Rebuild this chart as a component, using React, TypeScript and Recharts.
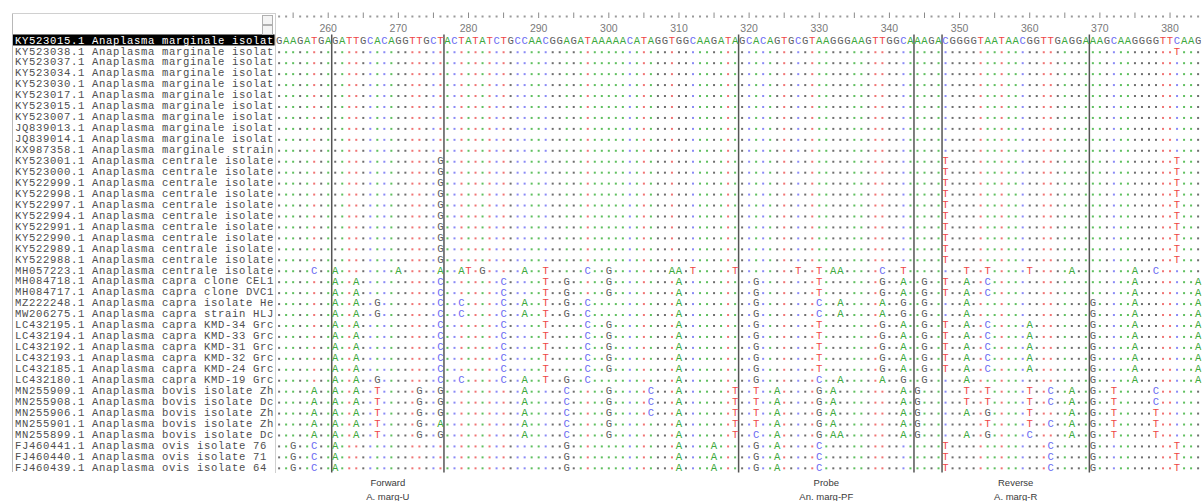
import type { JSX } from 'react';
import { ScatterChart, Scatter, XAxis, YAxis, ReferenceLine, ReferenceArea } from 'recharts';

// alignment starts at position 253, one column per nucleotide
const firstPosition = 253;

const consensus =
    'GAAGATGAGATTGCACAGGTTGCTACTATATCTGCCAACGGAGAT' +
    'AAAAACATAGGTGGCAAGATAGCACAGTGCGTAAGGGAAGTT' +
    'GGCAAAGACGGGGTAATAACGGTTGAGGAAAGCAAGGGGTTCAAG';

const names = [
    'KY523015.1 Anaplasma marginale isolat',
    'KY523038.1 Anaplasma marginale isolat',
    'KY523037.1 Anaplasma marginale isolat',
    'KY523034.1 Anaplasma marginale isolat',
    'KY523030.1 Anaplasma marginale isolat',
    'KY523017.1 Anaplasma marginale isolat',
    'KY523015.1 Anaplasma marginale isolat',
    'KY523007.1 Anaplasma marginale isolat',
    'JQ839013.1 Anaplasma marginale isolat',
    'JQ839014.1 Anaplasma marginale isolat',
    'KX987358.1 Anaplasma marginale strain',
    'KY523001.1 Anaplasma centrale isolate',
    'KY523000.1 Anaplasma centrale isolate',
    'KY522999.1 Anaplasma centrale isolate',
    'KY522998.1 Anaplasma centrale isolate',
    'KY522997.1 Anaplasma centrale isolate',
    'KY522994.1 Anaplasma centrale isolate',
    'KY522991.1 Anaplasma centrale isolate',
    'KY522990.1 Anaplasma centrale isolate',
    'KY522989.1 Anaplasma centrale isolate',
    'KY522988.1 Anaplasma centrale isolate',
    'MH057223.1 Anaplasma centrale isolate',
    'MH084718.1 Anaplasma capra clone CEL1',
    'MH084717.1 Anaplasma capra clone DVC1',
    'MZ222248.1 Anaplasma capra isolate He',
    'MW206275.1 Anaplasma capra strain HLJ',
    'LC432195.1 Anaplasma capra KMD-34 Grc',
    'LC432194.1 Anaplasma capra KMD-33 Grc',
    'LC432192.1 Anaplasma capra KMD-31 Grc',
    'LC432193.1 Anaplasma capra KMD-32 Grc',
    'LC432185.1 Anaplasma capra KMD-24 Grc',
    'LC432180.1 Anaplasma capra KMD-19 Grc',
    'MN255909.1 Anaplasma bovis isolate Zh',
    'MN255908.1 Anaplasma bovis isolate Dc',
    'MN255906.1 Anaplasma bovis isolate Zh',
    'MN255901.1 Anaplasma bovis isolate Zh',
    'MN255899.1 Anaplasma bovis isolate Dc',
    'FJ460441.1 Anaplasma ovis isolate 76',
    'FJ460440.1 Anaplasma ovis isolate 71',
    'FJ460439.1 Anaplasma ovis isolate 64',
];

// differences from the first sequence, "position + base"
const diffs = [
    '',
    '381T',
    '', '', '', '', '', '', '', '', '',
    '276G 348T 381T', '276G 348T 381T', '276G 348T 381T', '276G 348T 381T', '276G 348T 381T',
    '276G 348T 381T', '276G 348T 381T', '276G 348T 381T', '276G 348T 381T', '276G 348T 381T',
    '258C 261A 270A 276A 279A 280T 282G 288A 291T 297C 300G 309A 310A 312T 318T 327T 330T 332A 333A 339C 342T 351T 354T 360T 366A 375A 378C',
    '261A 264A 276C 285C 291T 294G 300G 310A 321G 330T 339G 342A 345G 348T 351A 354C 375A 384A',
    '261A 264A 276C 285C 291T 294G 300G 310A 321G 330T 339G 342A 345G 348T 351A 354C 375A 384A',
    '261A 264A 267G 276C 279C 285C 288A 291T 294G 297C 310A 321G 330C 333A 339A 342G 345G 351A 369G 375A 384A',
    '261A 264A 267G 276C 279C 285C 288A 291T 294G 297C 310A 321G 330C 333A 339A 342G 345G 351A 369G 375A 384A',
    '261A 264A 276C 285C 291T 297C 300G 310A 321G 330T 339G 342A 345G 348T 351A 354C 360A 369G 375A 384A',
    '261A 264A 276C 285C 291T 297C 300G 310A 321G 330T 339G 342A 345G 348T 351A 354C 360A 369G 375A 384A',
    '261A 264A 276C 285C 291T 297C 300G 310A 321G 330T 339G 342A 345G 348T 351A 354C 360A 369G 375A 384A',
    '261A 264A 276C 285C 291T 297C 300G 310A 321G 330T 339G 342A 345G 348T 351A 354C 360A 369G 375A 384A',
    '261A 264A 276C 285C 291T 297C 300G 310A 321G 330T 339G 342A 345G 348T 351A 354C 360A 369G 375A 384A',
    '261A 264A 267G 276C 279C 285C 288A 291T 294G 297C 310A 321G 330C 333A 339A 342G 345G 351A 369G 375A 384A',
    '258A 261A 264A 267T 273G 276G 288A 294C 300G 306C 310A 318T 321T 324A 330G 332A 342A 344G 351T 354T 360T 363C 366A 369G 372T 378C',
    '258A 261A 264A 267T 273G 276G 288A 294C 300G 306C 310A 318T 321T 324A 330G 332A 342A 344G 351T 354T 360T 363C 366A 369G 372T 378C',
    '258A 261A 264A 267T 273G 276G 288A 294C 300G 306C 310A 318T 321T 324A 330G 332A 342A 344G 351A 354G 360T 366A 369G 372T 378T',
    '258A 261A 264A 267T 273G 276A 288A 294C 300G 310A 318T 321T 324A 330G 332A 342A 344G 354T 360T 363C 366A 369G 372T 378T',
    '258A 261A 264A 267T 273G 276G 288A 294C 300G 310A 318T 321C 324A 330G 332A 333A 342A 344G 351A 354G 360C 366A 369G 372T 378T',
    '255G 258C 261A 294G 310A 315A 321G 324A 330C 348T 363C 369G 381T',
    '255G 258C 261A 294G 310A 315A 321G 324A 330C 348T 363C 369G 381T',
    '255G 258C 261A 294G 310A 315A 321G 324A 330C 348T 363C 369G 381T',
];

const primerTitles = ['Forward', 'Probe', 'Reverse'];
const primerIds = ['A. marg-U', 'An. marg-PF', 'A. marg-R'];
const primerStarts = [261, 319, 348];
const primerEnds = [276, 343, 368];

const letterColor: Record<string, string> = { A: '#3ca83c', C: '#6c6cf2', G: '#5e5e5e', T: '#ee4646' };
const dotColor: Record<string, string> = { A: '#5fbf5f', C: '#8a8af6', G: '#6e6e6e', T: '#f07474' };

const MONO = '"Liberation Mono", "DejaVu Sans Mono", monospace';
const SANS = '"Liberation Sans", Arial, sans-serif';

interface Cell {
    pos: number;
    row: number;
    base: string;
    ref: string;
    same: boolean;
}

const positions = Array.from(consensus, (_c, i) => firstPosition + i);
const rowIndices = names.map((_n, i) => i);

const cells: Cell[] = names.flatMap((_n, row) => {
    const changes = new Map(
        diffs[row].split(' ').filter(Boolean).map((t) => [parseInt(t, 10), t.slice(-1)] as [number, string]),
    );
    return positions.map((pos, i) => {
        const ref = consensus[i];
        const base = changes.get(pos) ?? ref;
        return { pos, row, base, ref, same: row > 0 && base === ref };
    });
});

const RulerTick = (props: any): JSX.Element => {
    const { x, y, payload } = props;
    const pos: number = payload.value;
    return (
        <g>
            {pos % 5 === 0
                ? <line x1={x} x2={x} y1={y - 22} y2={y - 16.5} stroke="#8a8a8a" strokeWidth={1} />
                : <rect x={x - 1} y={y - 19} width={2} height={2} fill="#9a9a9a" />}
            {pos % 10 === 0 && (
                <text x={x} y={y - 3} textAnchor="middle" fontFamily={SANS} fontSize={10.5} fill="#7a7a7a">{pos}</text>
            )}
        </g>
    );
};

const NameTick = (props: any): JSX.Element => {
    const { x, y, payload } = props;
    const row: number = payload.value;
    const selected = row === 0;
    return (
        <g>
            {selected && <rect x={x - 262.6} y={y - 5.5} width={261.6} height={11} fill="#000" />}
            <text
                x={x - 260.6}
                y={y + 3.6}
                fontFamily={MONO}
                fontSize={10.6}
                letterSpacing={0.64}
                fill={selected ? '#fff' : '#4e4e4e'}
                style={{ whiteSpace: 'pre' }}
            >
                {names[row]}
            </text>
        </g>
    );
};

const renderCell = (props: any): JSX.Element => {
    const { cx, cy, payload } = props;
    const cell: Cell = payload;
    if (cell.same) {
        return <rect x={cx - 1} y={cy + 0.3} width={2} height={2} fill={dotColor[cell.ref]} />;
    }
    return (
        <text x={cx} y={cy + 3.7} textAnchor="middle" fontFamily={MONO} fontSize={10.6} fill={letterColor[cell.base]}>
            {cell.base}
        </text>
    );
};

const PrimerLabel = (props: any): JSX.Element => {
    const { viewBox, title, id } = props;
    const cx = viewBox.x + viewBox.width / 2;
    const bottom = viewBox.y + viewBox.height;
    return (
        <g>
            <text x={cx} y={bottom + 13} textAnchor="middle" fontFamily={SANS} fontSize={9.5} fill="#3a3a3a">{title}</text>
            <text x={cx} y={bottom + 27} textAnchor="middle" fontFamily={SANS} fontSize={9.5} fill="#3a3a3a">{id}</text>
        </g>
    );
};

export default function App (): JSX.Element {
    return (
        <div style={{ position: 'absolute', left: 0, top: 0, width: 1202, height: 501, background: '#fff', overflow: 'hidden' }}>
            <ScatterChart width={1202} height={501} margin={{ top: 4.5, right: 0.4, bottom: 28.5, left: 0 }}>
                <XAxis
                    type="number"
                    dataKey="pos"
                    orientation="top"
                    domain={[firstPosition - 0.5, firstPosition + consensus.length - 0.5]}
                    ticks={positions}
                    interval={0}
                    tick={<RulerTick />}
                    tickLine={false}
                    axisLine={false}
                    tickSize={0}
                    tickMargin={0}
                    height={30}
                    allowDataOverflow
                />
                <YAxis
                    type="number"
                    dataKey="row"
                    domain={[-0.5, names.length - 0.5]}
                    reversed
                    ticks={rowIndices}
                    interval={0}
                    tick={<NameTick />}
                    tickLine={false}
                    axisLine={false}
                    tickSize={0}
                    tickMargin={0}
                    width={275.6}
                    allowDataOverflow
                />
                <Scatter data={cells} shape={renderCell} isAnimationActive={false} />
                {primerStarts.map((start, i) => (
                    <ReferenceArea
                        key={`area-${i}`}
                        x1={start - 0.5}
                        x2={primerEnds[i] + 0.5}
                        fill="none"
                        fillOpacity={0}
                        stroke="none"
                        label={<PrimerLabel title={primerTitles[i]} id={primerIds[i]} />}
                    />
                ))}
                {primerStarts.flatMap((start, i) => [
                    <ReferenceLine key={`s-${i}`} x={start - 0.5} stroke="#555" strokeWidth={1.5} />,
                    <ReferenceLine key={`e-${i}`} x={primerEnds[i] + 0.5} stroke="#555" strokeWidth={1.5} />,
                ])}
            </ScatterChart>
            <div style={{ position: 'absolute', left: 12, top: 13, width: 1, height: 459, background: '#b8b8b8' }} />
            <div style={{ position: 'absolute', left: 275, top: 13, width: 1, height: 460, background: '#d0d0d0' }} />
            <div style={{ position: 'absolute', left: 12, top: 13, width: 263, height: 1, background: '#d0d0d0' }} />
            <div style={{ position: 'absolute', left: 262, top: 15, width: 9, height: 8, border: '1px solid #b0b0b0', background: '#f4f4f4' }} />
            <div style={{ position: 'absolute', left: 262, top: 25, width: 9, height: 8, border: '1px solid #b0b0b0', background: '#f4f4f4' }} />
        </div>
    );
}
